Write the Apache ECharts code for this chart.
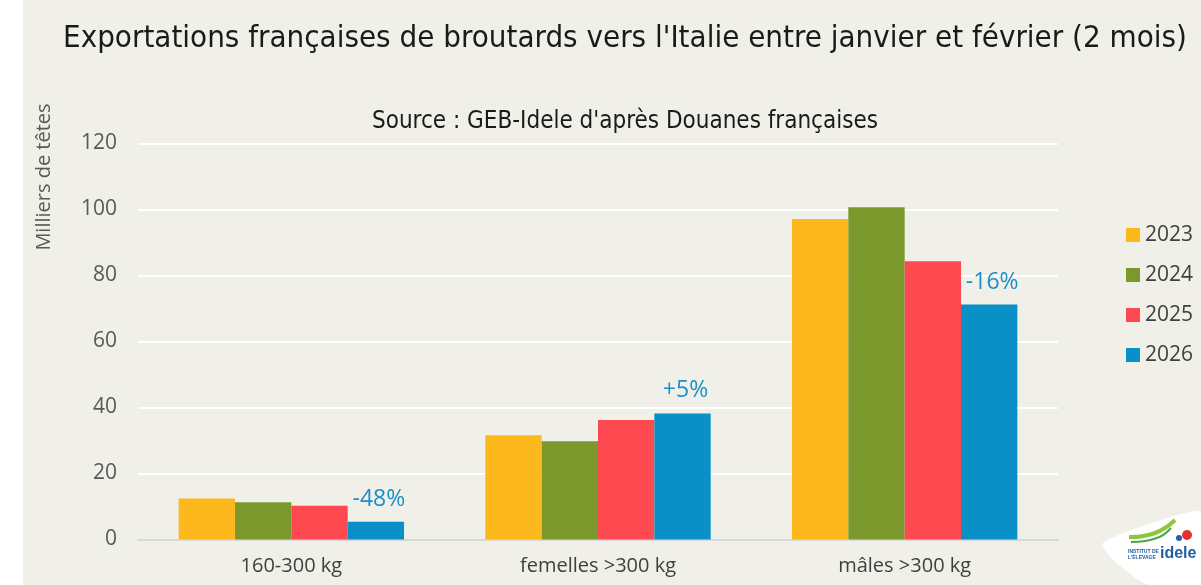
<!DOCTYPE html>
<html>
<head>
<meta charset="utf-8">
<script src="https://cdn.jsdelivr.net/npm/echarts@6/dist/echarts.min.js"></script>
<style>
  html, body { margin: 0; padding: 0; background: #ffffff; }
  #chart { position: absolute; left: 23px; top: 0; width: 1178px; height: 585px; background: #f0f0e8; }
</style>
</head>
<body>
<div id="chart"></div>
<script>
// categories and values (milliers de têtes)
var categories = ['160-300 kg', 'femelles >300 kg', 'mâles >300 kg'];
var years = ['2023', '2024', '2025', '2026'];
var v2023 = [12.4, 31.6, 97.1];
var v2024 = [11.3, 29.8, 100.7];
var v2025 = [10.2, 36.2, 84.3];
var v2026 = [5.4, 38.2, 71.2];
var evolution = ['-48%', '+5%', '-16%'];
var yTicks = [0, 20, 40, 60, 80, 100, 120];

var colors = ['#fdb81e', '#7b982d', '#fe4950', '#0990c6'];
var condensed = "'DejaVu Sans Condensed', 'Liberation Sans Narrow', sans-serif";
var body = "'Open Sans', 'Noto Sans', sans-serif";

var chart = echarts.init(document.getElementById('chart'));

function serie(name, data, color) {
    return {
        name: name,
        type: 'bar',
        data: data,
        barGap: '0%',
        barCategoryGap: '26.5%',
        itemStyle: { color: color },
        emphasis: { disabled: true }
    };
}

var last = serie(years[3], v2026, colors[3]);
last.label = {
    show: true,
    position: 'top',
    distance: 11,
    offset: [3, 0],
    fontFamily: body,
    fontSize: 23,
    color: '#1a8fc8',
    formatter: function (p) { return evolution[p.dataIndex]; }
};

var option = {
    animation: false,
    color: colors,
    title: [{
        text: "Exportations françaises de broutards vers l'Italie entre janvier et février (2 mois)",
        left: 597,
        top: 18,
        textAlign: 'center',
        textStyle: { fontFamily: condensed, fontSize: 31, fontWeight: 'normal', color: '#1a1a1a' }
    }, {
        text: "Source : GEB-Idele d'après Douanes françaises",
        left: 597,
        top: 105,
        textAlign: 'center',
        textStyle: { fontFamily: condensed, fontSize: 24, fontWeight: 'normal', color: '#1a1a1a' }
    }],
    legend: {
        orient: 'vertical',
        left: 1098,
        top: 219,
        itemWidth: 14,
        itemHeight: 14,
        itemGap: 18,
        icon: 'rect',
        textStyle: { fontFamily: body, fontSize: 21, color: '#404040', lineHeight: 22 },
        data: years
    },
    grid: { left: 115, right: 143, top: 143.5, bottom: 45.5, containLabel: false },
    xAxis: {
        type: 'category',
        data: categories,
        axisLine: { lineStyle: { color: '#d9d9d9', width: 2 } },
        axisTick: { show: false },
        axisLabel: { fontFamily: body, fontSize: 20, color: '#404040', margin: 17 }
    },
    yAxis: {
        type: 'value',
        min: yTicks[0],
        max: yTicks[yTicks.length - 1],
        interval: 20,
        axisLine: { show: false },
        axisTick: { show: false },
        axisLabel: { fontFamily: body, fontSize: 21, color: '#595959', margin: 21 },
        splitLine: { lineStyle: { color: '#ffffff', width: 2 } }
    },
    graphic: [{
        type: 'text',
        x: 21,
        y: 177,
        rotation: Math.PI / 2,
        style: {
            text: 'Milliers de têtes',
            font: '20px ' + body,
            fill: '#595959',
            align: 'center',
            verticalAlign: 'middle'
        }
    }, {
        // logo idele
        type: 'group',
        x: 1080,
        y: 500,
        children: [{
            type: 'polygon',
            shape: { points: [[0, 43], [40, 26], [98, 12], [98, 85], [45, 85], [8, 58]], smooth: 0.2 },
            style: { fill: '#ffffff' }
        }, {
            type: 'polyline',
            shape: { points: [[26, 37], [52, 33], [72, 20]], smooth: 0.5 },
            style: { stroke: '#8cc63f', lineWidth: 4, fill: null }
        }, {
            type: 'polyline',
            shape: { points: [[28, 42], [54, 38], [68, 28]], smooth: 0.5 },
            style: { stroke: '#4aa84a', lineWidth: 2, fill: null }
        }, {
            type: 'circle',
            shape: { cx: 84, cy: 35, r: 5 },
            style: { fill: '#e7312f' }
        }, {
            type: 'circle',
            shape: { cx: 76, cy: 38, r: 3 },
            style: { fill: '#1f5fa8' }
        }, {
            type: 'text',
            x: 25,
            y: 49,
            style: { text: 'INSTITUT DE\nL\'ÉLEVAGE', font: 'bold 5px sans-serif', fill: '#1f5fa8', lineHeight: 6 }
        }, {
            type: 'text',
            x: 57,
            y: 46,
            style: { text: 'idele', font: 'bold 16px sans-serif', fill: '#1f5fa8' }
        }]
    }],
    series: [
        serie(years[0], v2023, colors[0]),
        serie(years[1], v2024, colors[1]),
        serie(years[2], v2025, colors[2]),
        last
    ]
};

chart.setOption(option);
</script>
</body>
</html>
